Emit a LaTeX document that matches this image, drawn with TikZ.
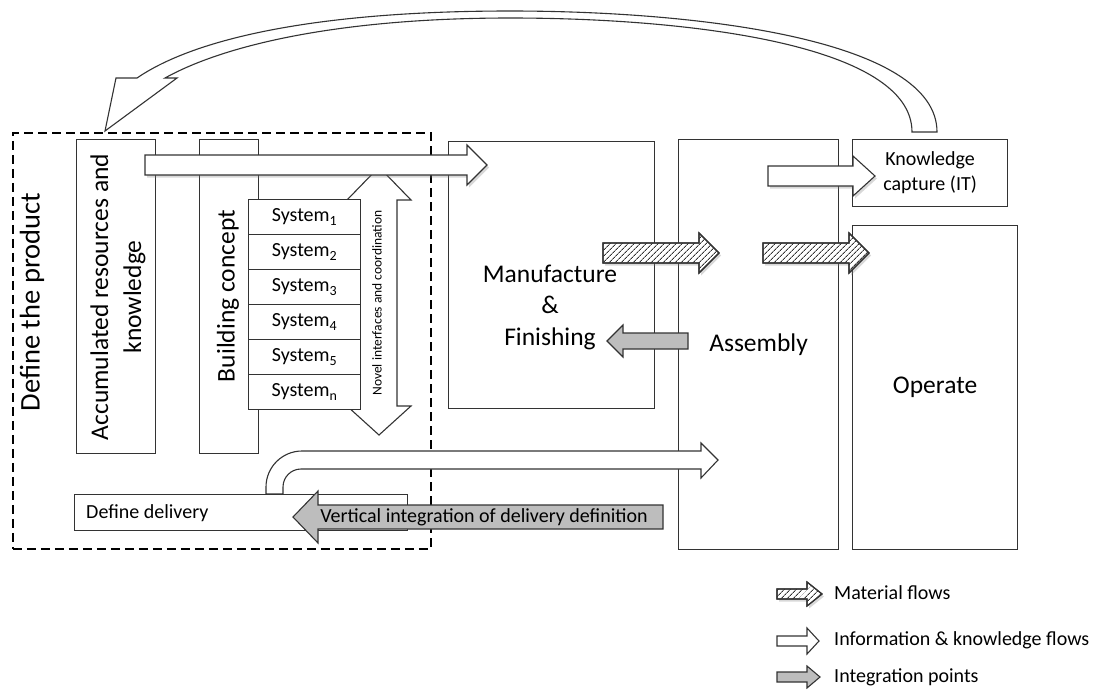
\documentclass[tikz,border=0pt]{standalone}
\usepackage{fontspec}
\setmainfont{Carlito}
\usetikzlibrary{patterns.meta,shadows}
\definecolor{ln}{HTML}{333333}
\definecolor{gfill}{HTML}{BDBDBD}
\newcommand\harrow[7]{\path[#1] ({#2},{#4-#5}) -- ({#3-(#7)},{#4-#5}) -- ({#3-(#7)},{#4-#6}) -- ({#3},{#4}) -- ({#3-(#7)},{#4+#6}) -- ({#3-(#7)},{#4+#5}) -- ({#2},{#4+#5}) -- cycle;}
\begin{document}
\begin{tikzpicture}[x=1pt,y=-1pt,line join=miter,
  box/.style={draw=ln,line width=1.1pt,fill=white,inner sep=0pt,anchor=north west},
  lbl/.style={inner sep=0pt,align=center,text=black},
  big/.style={lbl,font=\fontsize{25.5}{31.5}\selectfont},
  mid/.style={lbl,font=\fontsize{20}{25}\selectfont},
  warr/.style={draw=ln,line width=1.1pt,fill=white},
  shad/.style={drop shadow={opacity=0.3,shadow xshift=2pt,shadow yshift=-2.5pt}},
  garr/.style={draw=ln,line width=1.1pt,fill=gfill},
  hatch/.style={draw=ln,line width=1.1pt,fill=white,shad,
     postaction={pattern={Lines[angle=45,distance=4pt,line width=1pt]},pattern color=ln},
     postaction={draw=ln,line width=1.1pt}}]
\useasboundingbox (0,0) rectangle (1097,697);
\fill[white] (0,0) rectangle (1097,697);

% return arrow from knowledge capture back to define the product
\path[warr] (937,132) .. controls (937,40) and (700,11) .. (510,11)
   .. controls (330,11) and (200,35) .. (137,78) -- (116,78) -- (105,131) -- (177,78) -- (165,78)
   .. controls (230,42) and (350,18) .. (510,18)
   .. controls (690,18) and (912,45) .. (912,132) -- cycle;

% define the product frame
\node[draw=black,line width=1.6pt,dash pattern=on 9pt off 5pt,inner sep=0pt,anchor=north west,minimum width=418pt,minimum height=416pt] (frame) at (12,132) {};
\node[lbl,rotate=90,font=\fontsize{28.5}{34}\selectfont] (dtp) at (32,302) {Define the product};

\node[box,minimum width=79pt,minimum height=314pt] (acc) at (76,139) {};
\node[big,rotate=90,font=\fontsize{25.5}{33}\selectfont] (acct) at (118,297) {Accumulated resources and\\knowledge};
\node[box,minimum width=59pt,minimum height=314pt] (bc) at (199,139) {};
\node[big,rotate=90] (bct) at (228,296) {Building concept};

% novel interfaces double arrow
\path[warr] (360,200) -- (347,200) -- (379,167) -- (411,200) -- (397,200) -- (397,406) -- (411,406) -- (379,435) -- (347,406) -- (360,406) -- cycle;
\node[lbl,rotate=90,font=\fontsize{13.5}{16}\selectfont] (novel) at (377,303) {Novel interfaces and coordination};

% systems
\foreach \i/\t in {0/1,1/2,2/3,3/4,4/5,5/n}{
  \node[box,minimum width=112pt,minimum height=35pt,font=\fontsize{20}{24}\selectfont] (sys\i) at (248,{199+35*\i}) {System\textsubscript{\t}};
}

% main boxes
\node[box,minimum width=206pt,minimum height=267pt] (man) at (448,141) {};
\node[big] (mant) at (550,307) {Manufacture\\\&\\Finishing};
\node[box,minimum width=160pt,minimum height=410pt,big] (asm) at (678,139) {Assembly};
\node[box,minimum width=155pt,minimum height=67pt,mid] (kc) at (852,139) {Knowledge\\capture (IT)};
\node[box,minimum width=165pt,minimum height=324pt,big] (op) at (852,225) {Operate};

% delivery flow
\path[warr] (266,494) -- (266,487) arc[start angle=180,end angle=270,radius=36] -- (701,451) -- (701,443) -- (718,460) -- (701,478) -- (701,469) -- (301,469) arc[start angle=270,end angle=180,radius=18] -- (283,494) -- cycle;
\node[box,minimum width=333pt,minimum height=36pt] (dd) at (74,494) {};
\node[mid,anchor=west] (ddt) at (86,513) {Define delivery};
\harrow{garr}{663}{293}{517}{12}{26}{-25}
\node[mid] (vit) at (484,517) {Vertical integration of delivery definition};

% information flows
\harrow{warr,shad}{145}{487}{165}{10}{20}{20}
\harrow{warr,shad}{768}{875}{176}{10}{20}{22}

% material flows
\harrow{hatch}{603}{719}{253}{10}{20}{20}
\harrow{hatch}{763}{869}{253}{10}{20}{20}

% integration point
\harrow{garr}{688}{607}{341}{8}{16}{-16}

% legend
\harrow{hatch}{777}{822}{594}{5}{12}{15}
\node[mid,anchor=west] (lg1) at (834,593) {Material flows};
\harrow{warr}{777}{819}{641}{5}{13}{12}
\node[mid,anchor=west] (lg2) at (834,640) {Information \& knowledge flows};
\harrow{garr}{777}{820}{677}{5}{11}{13}
\node[mid,anchor=west] (lg3) at (834,677) {Integration points};
\end{tikzpicture}
\end{document}
